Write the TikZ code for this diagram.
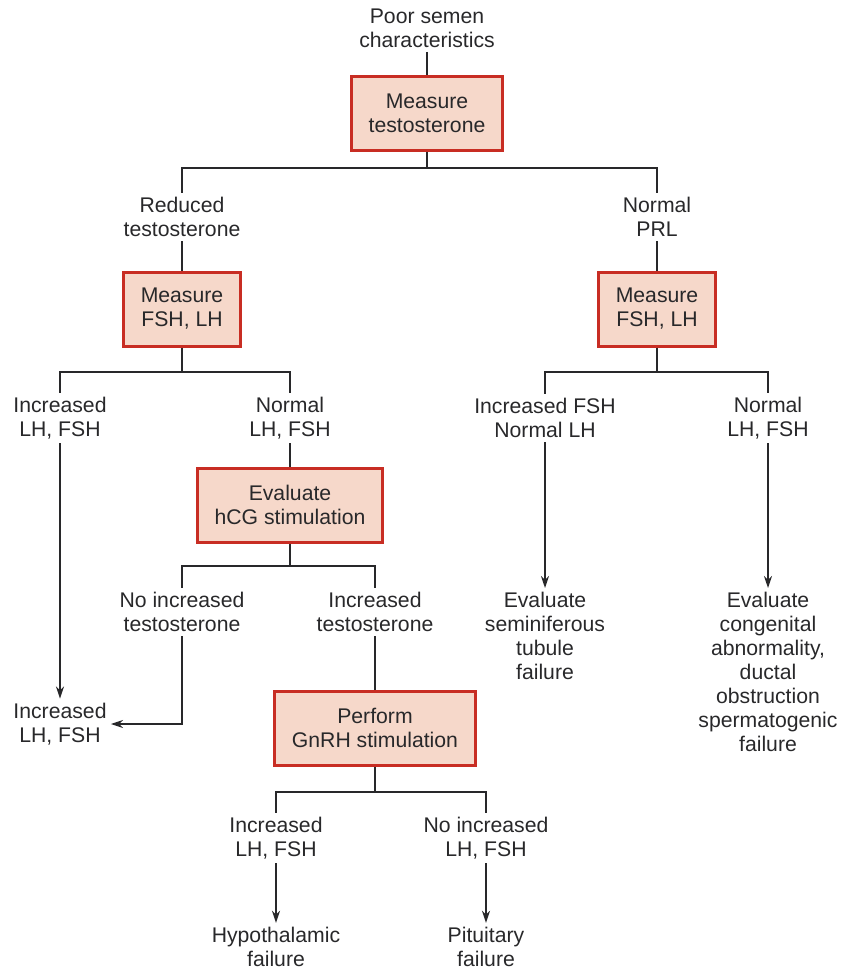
\documentclass[tikz,border=0pt]{standalone}
\usepackage{fontspec}
\setmainfont{Liberation Sans}
\usetikzlibrary{arrows.meta}
\definecolor{chBox}{RGB}{246,216,202}
\definecolor{chRed}{RGB}{200,45,35}
\definecolor{chGray}{RGB}{40,40,42}
\tikzset{
    base/.style={font=\fontsize{10.6}{12}\selectfont, align=center, text=chGray},
    exam/.style={base, rectangle, draw=chRed, line width=1.5pt, fill=chBox,
                 minimum height=37pt, inner xsep=8.5pt},
    finding/.style={base, inner sep=2pt},
    link/.style={chGray, line width=0.9pt},
    flow/.style={link, -{Stealth[length=6pt,width=4pt]}}
}
\begin{document}
\begin{tikzpicture}[x=0.5pt, y=-0.5pt]
  \useasboundingbox (0,0) rectangle (842,969);

  % top
  \node[finding] (poor) at (427,28) {Poor semen\\characteristics};
  \node[exam] (mtest) at (427,113) {Measure\\testosterone};
  \draw[link] (poor) -- (mtest);
  \coordinate (j1) at (427,168);
  \node[finding] (redt) at (182,217) {Reduced\\testosterone};
  \node[finding] (nprl) at (657,217) {Normal\\PRL};
  \draw[link] (mtest.south) -- (j1);
  \draw[link] (redt.north) |- (j1) -| (nprl.north);

  % left branch
  \node[exam] (mfsh) at (182,309) {Measure\\FSH, LH};
  \draw[link] (redt) -- (mfsh);
  \coordinate (j2) at (182,372);
  \node[finding] (inclh) at (60,418) {Increased\\LH, FSH};
  \node[finding] (normlh) at (290,418) {Normal\\LH, FSH};
  \draw[link] (mfsh.south) -- (j2);
  \draw[link] (inclh.north) |- (j2) -| (normlh.north);

  \node[exam] (hcg) at (290,505) {Evaluate\\hCG stimulation};
  \draw[link] (normlh) -- (hcg);
  \coordinate (j3) at (290,566);
  \node[finding] (noinct) at (182,612) {No increased\\testosterone};
  \node[finding] (inct) at (375,612) {Increased\\testosterone};
  \draw[link] (hcg.south) -- (j3);
  \draw[link] (noinct.north) |- (j3) -| (inct.north);

  \node[finding] (inclhb) at (60,724) {Increased\\LH, FSH};
  \draw[flow] (inclh) -- (inclhb);
  \draw[flow] (noinct.south) |- (inclhb.east);

  \node[exam] (gnrh) at (375,728) {Perform\\GnRH stimulation};
  \draw[link] (inct) -- (gnrh);
  \coordinate (j4) at (375,792);
  \node[finding] (gnup) at (276,838) {Increased\\LH, FSH};
  \node[finding] (gnno) at (486,838) {No increased\\LH, FSH};
  \draw[link] (gnrh.south) -- (j4);
  \draw[link] (gnup.north) |- (j4) -| (gnno.north);
  \node[finding] (hypo) at (276,947) {Hypothalamic\\failure};
  \node[finding] (pitu) at (486,947) {Pituitary\\failure};
  \draw[flow] (gnup) -- (hypo);
  \draw[flow] (gnno) -- (pitu);

  % right branch
  \node[exam] (mfshr) at (657,309) {Measure\\FSH, LH};
  \draw[link] (nprl) -- (mfshr);
  \coordinate (j5) at (657,372);
  \node[finding] (incfsh) at (545,418) {Increased FSH\\Normal LH};
  \node[finding] (normr) at (768,418) {Normal\\LH, FSH};
  \draw[link] (mfshr.south) -- (j5);
  \draw[link] (incfsh.north) |- (j5) -| (normr.north);
  \node[finding, anchor=north] (semi) at (545,588) {Evaluate\\seminiferous\\tubule\\failure};
  \node[finding, anchor=north] (cong) at (768,588) {Evaluate\\congenital\\abnormality,\\ductal\\obstruction\\spermatogenic\\failure};
  \draw[flow] (incfsh) -- (semi);
  \draw[flow] (normr) -- (cong);
\end{tikzpicture}
\end{document}
